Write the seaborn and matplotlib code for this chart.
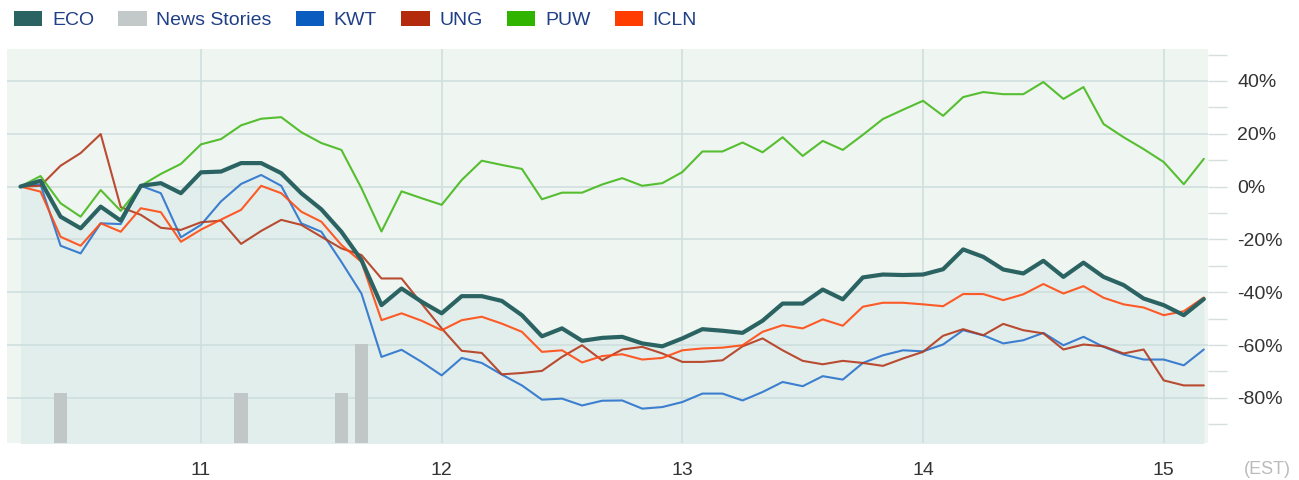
import numpy as np
import pandas as pd
import matplotlib
matplotlib.use("Agg")
import matplotlib.pyplot as plt
from matplotlib.patches import Patch
import seaborn as sns

# time grid: 12 samples per day, starting at day 10.25
t = 10.25 + np.arange(60) / 12

# % change since start
eco = [0, 2.2, -11.4, -15.8, -7.6, -12.9, 0.3, 1.3, -2.5, 5.4,
       5.7, 8.9, 8.9, 5.1, -2.5, -8.6, -17.1, -27.8, -44.9, -38.6,
       -43.6, -48.0, -41.5, -41.5, -43.3, -48.7, -56.7, -53.7, -58.4, -57.3,
       -56.9, -59.4, -60.5, -57.5, -54.0, -54.6, -55.4, -50.8, -44.3, -44.3,
       -39.0, -42.7, -34.4, -33.3, -33.5, -33.3, -31.3, -23.8, -26.6, -31.4,
       -32.9, -28.1, -34.2, -28.8, -34.2, -37.3, -42.4, -44.9, -48.7, -42.6]
kwt = [0, 0.8, -22.4, -25.3, -13.9, -14.2, 0.3, -2.5, -19.2, -14.5,
       -5.6, 1.0, 4.4, 0.3, -13.9, -17.1, -28.5, -40.5, -64.5, -61.8,
       -66.4, -71.5, -64.9, -66.8, -71.2, -75.3, -80.7, -80.3, -82.9, -81.1,
       -81.0, -84.1, -83.5, -81.6, -78.4, -78.4, -81.0, -77.8, -74.0, -75.6,
       -71.8, -73.1, -66.8, -63.9, -62.0, -62.4, -59.8, -54.4, -56.3, -59.4,
       -58.2, -55.4, -60.1, -56.9, -60.7, -63.6, -65.5, -65.5, -67.7, -61.7]
ung = [0, 0.3, 7.9, 12.7, 19.9, -7.8, -10.7, -15.6, -16.4, -13.5,
       -12.9, -21.7, -16.8, -12.6, -14.5, -19.0, -23.4, -25.9, -34.8, -34.8,
       -44.3, -53.7, -62.2, -63.0, -71.1, -70.6, -69.8, -64.5, -60.1, -65.8,
       -61.7, -60.7, -63.2, -66.4, -66.4, -65.8, -60.5, -57.5, -62.0, -66.0,
       -67.3, -66.0, -66.8, -67.9, -65.1, -62.6, -56.5, -54.0, -56.3, -52.0,
       -54.4, -55.6, -61.7, -59.8, -60.5, -63.2, -61.7, -73.4, -75.3, -75.3]
puw = [0, 4.0, -6.3, -11.4, -1.3, -9.2, 0.3, 4.8, 8.6, 16.0,
       18.0, 23.2, 25.7, 26.3, 20.6, 16.5, 13.9, -0.6, -17.0, -1.8,
       -4.4, -6.9, 2.5, 9.8, 8.2, 6.7, -4.8, -2.3, -2.3, 0.8,
       3.2, 0.3, 1.3, 5.5, 13.3, 13.3, 16.7, 13.0, 18.7, 11.6,
       17.3, 13.9, 19.6, 25.6, 29.1, 32.5, 26.8, 33.9, 35.8, 35.0,
       35.0, 39.6, 33.2, 37.7, 23.7, 18.7, 14.2, 9.3, 0.9, 10.5]
icln = [0, -1.9, -19.0, -22.4, -13.9, -17.1, -8.2, -9.7, -20.9, -16.3,
        -12.5, -8.8, 0.3, -2.5, -9.5, -13.3, -22.1, -28.5, -50.6, -48.0,
        -50.8, -54.4, -50.6, -49.3, -51.9, -55.0, -62.6, -62.0, -66.6, -64.2,
        -63.5, -65.5, -64.9, -62.0, -61.3, -61.0, -60.1, -55.0, -52.5, -53.7,
        -50.3, -52.7, -45.5, -44.0, -44.0, -44.6, -45.3, -40.7, -40.7, -43.0,
        -40.8, -36.9, -40.5, -37.7, -42.1, -44.6, -45.8, -48.7, -47.2, -42.0]

# news stories: sample index and count
news_idx = [2, 11, 16, 17]
news_count = [1, 1, 1, 2]

x_ticks = [11, 12, 13, 14, 15]
y_ticks = [40, 20, 0, -20, -40, -60, -80]
y_minor = [50, 30, 10, -10, -30, -50, -70, -90]

legend_names = ["ECO", "News Stories", "KWT", "UNG", "PUW", "ICLN"]
legend_colors = ["#2a6361", "#c2c9c8", "#0b5cbf", "#b32a0c", "#30b400", "#ff3d00"]
line_colors = {"ECO": "#2b6363", "KWT": "#2a72cc", "UNG": "#b4391d",
               "PUW": "#45b81c", "ICLN": "#ff4a12"}
line_widths = {"ECO": 3.0, "KWT": 1.5, "UNG": 1.5, "PUW": 1.5, "ICLN": 1.5}

df = pd.DataFrame({"t": t, "ECO": eco, "KWT": kwt, "UNG": ung, "PUW": puw, "ICLN": icln})
long = df.melt(id_vars="t", var_name="ticker", value_name="chg")

sns.set_style("white")
plt.rcParams["font.family"] = ["Liberation Sans", "DejaVu Sans"]

fig = plt.figure(figsize=(12.99, 4.8), dpi=100)
ax = fig.add_axes([6.5 / 1299, 37.3 / 480, (1208 - 6.5) / 1299, (442.7 - 49.3) / 480])
ax.set_facecolor("#eff5f1")

y_lo, y_hi = -97, 52
ax.fill_between(t, eco, y_lo - 10, color="#e2eeeb", lw=0, zorder=0.3)

for name in ["KWT", "UNG", "ICLN", "PUW", "ECO"]:
    sns.lineplot(data=long[long["ticker"] == name], x="t", y="chg", ax=ax,
                 color=line_colors[name], lw=line_widths[name],
                 alpha=0.9 if name != "ECO" else 1.0, legend=False)

# news stories on their own scale
ax2 = ax.twinx()
ax2.bar(t[news_idx], news_count, width=0.055, color="#c0c7c6", lw=0)
ax2.set_ylim(0, 7.95)
ax2.axis("off")

ax.set_xlim(10.192, 15.184)
ax.set_ylim(y_lo, y_hi)
ax.set_xticks(x_ticks, [str(v) for v in x_ticks])
ax.set_yticks(y_ticks, [f"{v}%" for v in y_ticks])
ax.set_yticks(y_minor, minor=True)
ax.yaxis.tick_right()
ax.set_xlabel("")
ax.set_ylabel("")
ax.grid(True, which="major", color="#cddedd", lw=1.1)
ax.set_axisbelow(True)
for s in ax.spines.values():
    s.set_visible(False)

ax.tick_params(axis="y", which="both", length=14, width=1.0, color="#d6dfde",
               pad=7, labelsize=14, labelcolor="#333333")
ax.tick_params(axis="x", length=4, width=1.0, color="#d6dfde",
               pad=10, labelsize=14, labelcolor="#333333")

fig.text(1244 / 1299, 1 - 470 / 480, "(EST)", color="#bbbbbb", fontsize=13, va="center")

handles = [Patch(facecolor=c, edgecolor="none", label=n)
           for n, c in zip(legend_names, legend_colors)]
fig.legend(handles=handles, loc="center left", bbox_to_anchor=(14 / 1299, 1 - 20 / 480),
           ncol=6, frameon=False, fontsize=14, handlelength=1.45, handleheight=0.82,
           handletextpad=0.5, columnspacing=1.25, borderpad=0, borderaxespad=0,
           labelcolor="#1f3f86")

fig.savefig("out.png", dpi=100)
